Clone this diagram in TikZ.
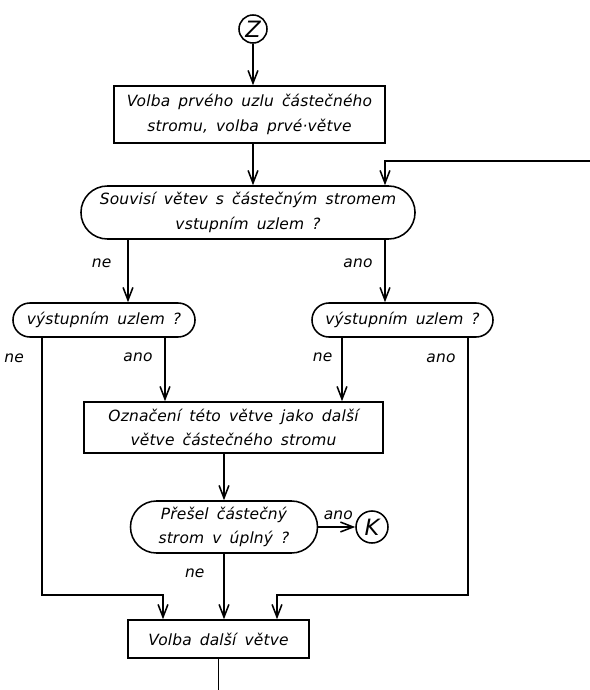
\documentclass[tikz,border=0pt]{standalone}
\usepackage{fontspec}
\usepackage{tikz}
\usetikzlibrary{shapes}
\usetikzlibrary{shapes.misc}
\usetikzlibrary{arrows.meta}
\newfontfamily\handfont[LetterSpace=1,WordSpace=1.6]{DejaVu Sans}
\tikzset{
  box/.style={draw, rectangle, inner sep=0pt, align=center},
  decision/.style={draw, rounded rectangle, inner sep=0pt, align=center},
  conn/.style={draw, circle, inner sep=0pt, font=\handfont\itshape\fontsize{16}{16}\selectfont},
}

\begin{document}
\begin{tikzpicture}[x=0.025cm, y=-0.025cm, line width=1.1pt,
  >={Straight Barb[length=9pt,width=7pt]},
  font=\handfont\itshape\fontsize{11}{17.5}\selectfont]
\useasboundingbox (0,0) rectangle (590,690);
% columns of the flow lines
\coordinate (xA) at (128,0);
\coordinate (xB) at (385,0);
\coordinate (xC) at (42,0);
\coordinate (xD) at (165,0);
\coordinate (xE) at (342,0);
\coordinate (xF) at (468,0);
\coordinate (xG) at (163,0);
\coordinate (xH) at (277,0);
\coordinate (merge) at (0,595);
\coordinate (back) at (590,161);
\coordinate (out) at (0,690);
% boxes
\node[conn, minimum size=0.7cm] (z) at (253,29) {Z};
\node[box, minimum width=6.775cm, minimum height=1.425cm] (first) at (249.5,114.5) {Volba prvého uzlu částečného\\stromu, volba prvé·větve};
\node[decision, minimum width=8.35cm, minimum height=1.325cm] (ask1) at (248,212.5) {Souvisí větev s částečným stromem\\vstupním uzlem ?};
\node[decision, minimum width=4.55cm, minimum height=0.85cm] (ask2l) at (104,320) {výstupním uzlem ?};
\node[decision, minimum width=4.525cm, minimum height=0.85cm] (ask2r) at (402.5,320) {výstupním uzlem ?};
\node[box, minimum width=7.475cm, minimum height=1.275cm] (mark) at (233.5,427.5) {Označení této větve jako další\\větve částečného stromu};
\node[decision, minimum width=4.675cm, minimum height=1.3cm] (ask3) at (224,527) {Přešel částečný\\strom v úplný ?};
\node[conn, minimum size=0.8cm] (k) at (372,527) {K};
\node[box, minimum width=4.525cm, minimum height=0.95cm] (next) at (218.5,639) {Volba další větve};
% flow
\draw[->] (z) -- (z |- first.north);
\draw[->] (z |- first.south) -- (z |- ask1.north);
\draw[->] (back) -| (xB |- ask1.north);
\draw[->] (xA |- ask1.south) -- node[pos=.375, left=8pt] {ne} (xA |- ask2l.north);
\draw[->] (xB |- ask1.south) -- node[pos=.375, left=5pt] {ano} (xB |- ask2r.north);
\draw[->] (xC |- ask2l.south) -- node[pos=.08, left=9pt] {ne} (xC |- merge) -| (xG |- next.north);
\draw[->] (xD |- ask2l.south) -- node[pos=.3, left=5pt] {ano} (xD |- mark.north);
\draw[->] (xE |- ask2r.south) -- node[pos=.3, left=3pt] {ne} (xE |- mark.north);
\draw[->] (xF |- ask2r.south) -- node[pos=.08, left=5pt] {ano} (xF |- merge) -| (xH |- next.north);
\draw[->] (ask3.north |- mark.south) -- (ask3.north);
\draw[->] (ask3.east) -- node[pos=0, anchor=south west, yshift=1pt] {ano} (k.west);
\draw[->] (ask3.south) -- node[pos=.3, left=10pt] {ne} (ask3.south |- next.north);
\draw (next.south) -- (next.south |- out);
\end{tikzpicture}
\end{document}
